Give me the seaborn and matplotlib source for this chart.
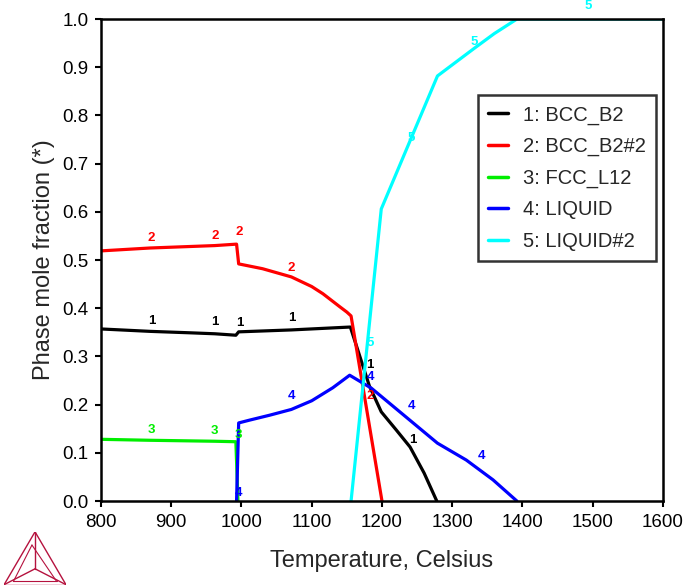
import matplotlib
matplotlib.use("Agg")
import matplotlib.pyplot as plt
import numpy as np
import pandas as pd
import seaborn as sns

# phase curves (temperature in C, phase mole fraction)
bcc_b2_t = [800, 870, 927, 962, 992, 996, 1071, 1155, 1182, 1199, 1220, 1240, 1260, 1278]
bcc_b2_f = [0.357, 0.352, 0.349, 0.347, 0.344, 0.351, 0.355, 0.361, 0.239, 0.185, 0.148, 0.112, 0.058, 0.0]

bcc_b2_2_t = [800, 870, 962, 993, 996, 1030, 1071, 1100, 1116, 1140, 1150, 1156, 1200]
bcc_b2_2_f = [0.519, 0.525, 0.530, 0.533, 0.492, 0.482, 0.465, 0.445, 0.430, 0.403, 0.392, 0.384, 0.0]

fcc_l12_t = [800, 870, 962, 992, 995]
fcc_l12_f = [0.128, 0.126, 0.124, 0.123, 0.0]

liquid_t = [993, 996, 1012, 1040, 1071, 1100, 1130, 1154, 1185, 1279, 1320, 1358, 1392]
liquid_f = [0.0, 0.162, 0.168, 0.178, 0.190, 0.208, 0.235, 0.261, 0.234, 0.120, 0.085, 0.044, 0.0]

liquid2_t = [1156, 1199, 1279, 1300, 1332, 1360, 1392, 1600]
liquid2_f = [0.0, 0.606, 0.882, 0.905, 0.940, 0.970, 1.0, 1.0]

phase_names = ["1: BCC_B2", "2: BCC_B2#2", "3: FCC_L12", "4: LIQUID", "5: LIQUID#2"]
phase_colors = ["#000000", "#ff0000", "#00ee00", "#0000ff", "#00ffff"]

# curve number labels (temperature, fraction)
label_pos = {
    "1": [(872, 0.362), (962, 0.36), (997, 0.356), (1071, 0.367), (1183, 0.27), (1244, 0.115)],
    "2": [(872, 0.533), (962, 0.538), (997, 0.545), (1071, 0.47), (1183, 0.205)],
    "3": [(872, 0.135), (962, 0.133), (996, 0.125)],
    "4": [(996, 0.005), (1071, 0.205), (1183, 0.245), (1242, 0.185), (1342, 0.08)],
    "5": [(1183, 0.315), (1242, 0.74), (1332, 0.94), (1493, 1.015)],
}

series = [(bcc_b2_t, bcc_b2_f), (bcc_b2_2_t, bcc_b2_2_f), (fcc_l12_t, fcc_l12_f),
          (liquid_t, liquid_f), (liquid2_t, liquid2_f)]
frames = []
for name, (t, f) in zip(phase_names, series):
    frames.append(pd.DataFrame({"T": t, "f": f, "phase": name}))
df = pd.concat(frames, ignore_index=True)

sns.set_style("ticks")
plt.rcParams["font.family"] = ["Liberation Sans", "DejaVu Sans"]

fig = plt.figure(figsize=(6.87, 5.87), dpi=100)
ax = fig.add_axes([0.147, 0.1465, 0.818, 0.821])

sns.lineplot(data=df, x="T", y="f", hue="phase", palette=phase_colors,
             sort=False, estimator=None, linewidth=2.3, ax=ax)

for i, (num, pts) in enumerate(label_pos.items()):
    for t, f in pts:
        ax.text(t, f, num, color=phase_colors[i], fontsize=9.5, fontweight="bold",
                ha="center", va="bottom", clip_on=False)

ax.set_xlim(800, 1600)
ax.set_ylim(0, 1.0)
ax.set_xticks(np.arange(800, 1601, 100))
ax.set_yticks(np.arange(0, 1.01, 0.1))
ax.set_yticklabels([f"{v:.1f}" for v in np.arange(0, 1.01, 0.1)])
ax.tick_params(direction="out", length=4, width=1.5, labelsize=13.5, colors="black", pad=5)
for s in ax.spines.values():
    s.set_linewidth(1.8)
    s.set_color("black")
ax.set_xlabel("Temperature, Celsius", fontsize=17, labelpad=14)
ax.set_ylabel("Phase mole fraction (*)", fontsize=17, labelpad=5)

leg = ax.legend(loc="upper right", bbox_to_anchor=(0.988, 0.842), fontsize=14.5,
                handlelength=1.0, frameon=True, fancybox=False, borderpad=0.5,
                labelspacing=0.62, handletextpad=0.75, borderaxespad=0)
leg.get_frame().set_edgecolor("black")
leg.get_frame().set_linewidth(1.8)
for line in leg.get_lines():
    line.set_linewidth(2.5)

# Thermo-Calc style logo, lower left
logo = fig.add_axes([0.006, 0.004, 0.09, 0.09])
logo.set_xlim(0, 1)
logo.set_ylim(0, 1)
logo.axis("off")
lc = "#b5123e"
apex = np.array([0.5, 1.0])
bl = np.array([0.0, 0.0])
br = np.array([1.0, 0.0])
cen = np.array([0.5, 0.3])
for a, b in [(apex, bl), (bl, br), (br, apex), (apex, cen), (bl, cen), (br, cen)]:
    logo.plot([a[0], b[0]], [a[1], b[1]], color=lc, lw=1.0)
inner = [np.array([0.45, 0.75]), np.array([0.15, 0.06]), np.array([0.85, 0.06])]
for a, b in [(inner[0], inner[1]), (inner[1], inner[2]), (inner[2], inner[0])]:
    logo.plot([a[0], b[0]], [a[1], b[1]], color=lc, lw=0.8)

fig.savefig("out.png", dpi=100)
